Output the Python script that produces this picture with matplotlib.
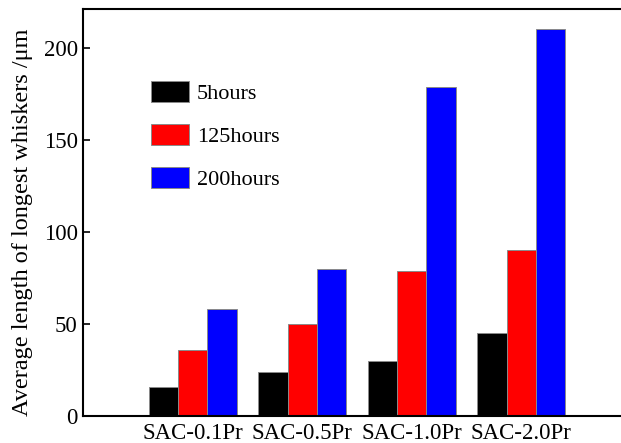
"""
Whisker length bar chart for SAC-xPr alloys
"""

import numpy as np
import matplotlib
matplotlib.use("Agg")
import matplotlib.pyplot as plt

# -----------------------
# Data
# -----------------------
alloys = ["SAC-0.1Pr", "SAC-0.5Pr", "SAC-1.0Pr", "SAC-2.0Pr"]
hours_5 = [16, 24, 30, 45]
hours_125 = [36, 50, 79, 90.5]
hours_200 = [58, 80, 179, 210.5]
series_labels = ["5hours", "125hours", "200hours"]
series_colors = ["#000000", "#ff0000", "#0000ff"]

# -----------------------
# Style
# -----------------------
plt.rcParams["font.family"] = ["Liberation Serif", "DejaVu Serif"]
plt.rcParams["font.size"] = 16.5

fig = plt.figure(figsize=(6.21, 4.43), dpi=100)
W, H = 621, 443
# axes: left spine at x=83, bottom at y=416, top at y=9; right edge falls off canvas
ax = fig.add_axes([83.3 / W, 1 - 416.3 / H, 547.5 / W, (416.3 - 9.3) / H])

x = np.arange(1, len(alloys) + 1)
width = 0.268
all_series = [hours_5, hours_125, hours_200]
for i, (vals, lab, col) in enumerate(zip(all_series, series_labels, series_colors)):
    ax.bar(x + (i - 1) * width, vals, width, color=col, label=lab,
           edgecolor="#8a8a8a", linewidth=0.7)

ax.set_xlim(0, 5)
ax.set_ylim(0, 221)
ax.set_yticks([0, 50, 100, 150, 200])
ax.set_xticks(x)
ax.set_xticklabels(alloys)
ax.tick_params(axis="y", direction="in", length=5, width=1.2, pad=4)
ax.tick_params(axis="x", length=0, pad=5)
for s in ax.spines.values():
    s.set_linewidth(1.5)

ax.set_ylabel("Average length of longest whiskers /μm", fontsize=17.5)
ax.yaxis.set_label_coords(-0.092, 0.476)

leg = ax.legend(loc="upper left", bbox_to_anchor=(150.7 / W, 1 - 80.7 / H),
                bbox_transform=fig.transFigure, frameon=False,
                borderpad=0, borderaxespad=0, fontsize=16,
                handlelength=1.74, handleheight=1.13,
                handletextpad=0.35, labelspacing=0.88)

fig.savefig("out.png", dpi=100)
